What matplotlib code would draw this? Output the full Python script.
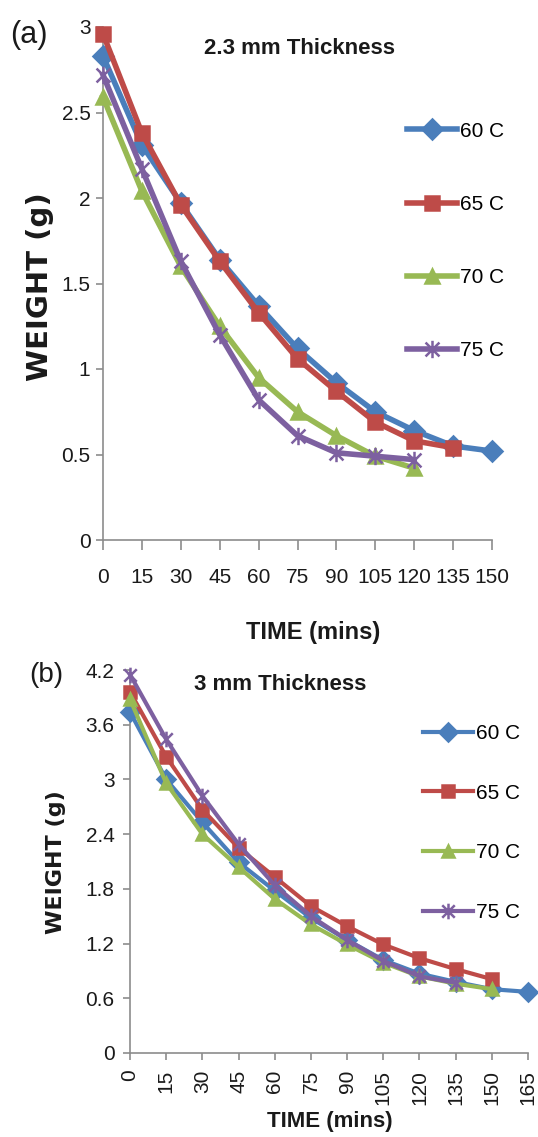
import matplotlib
matplotlib.use("Agg")
import matplotlib.pyplot as plt
from matplotlib.path import Path

W, H = 538, 1137

# ---- data ----
LABELS = ["60 C", "65 C", "70 C", "75 C"]

TIME_A = [0, 15, 30, 45, 60, 75, 90, 105, 120, 135, 150]
WEIGHT_A_60 = [2.83, 2.31, 1.97, 1.64, 1.37, 1.12, 0.92, 0.75, 0.64, 0.55, 0.52]
WEIGHT_A_65 = [2.96, 2.38, 1.96, 1.63, 1.33, 1.06, 0.87, 0.69, 0.58, 0.54]
WEIGHT_A_70 = [2.59, 2.04, 1.60, 1.25, 0.95, 0.75, 0.61, 0.49, 0.42]
WEIGHT_A_75 = [2.72, 2.17, 1.63, 1.20, 0.82, 0.61, 0.51, 0.49, 0.47]
YTICKS_A = [0, 0.5, 1, 1.5, 2, 2.5, 3]
YTICKLABELS_A = ["0", "0.5", "1", "1.5", "2", "2.5", "3"]

TIME_B = [0, 15, 30, 45, 60, 75, 90, 105, 120, 135, 150, 165]
WEIGHT_B_60 = [3.74, 3.00, 2.53, 2.09, 1.78, 1.48, 1.24, 1.02, 0.87, 0.78, 0.70, 0.67]
WEIGHT_B_65 = [3.96, 3.25, 2.67, 2.25, 1.93, 1.61, 1.39, 1.19, 1.04, 0.92, 0.81]
WEIGHT_B_70 = [3.88, 2.96, 2.40, 2.04, 1.69, 1.41, 1.19, 0.99, 0.84, 0.76, 0.70]
WEIGHT_B_75 = [4.15, 3.44, 2.82, 2.29, 1.84, 1.50, 1.24, 1.01, 0.84, 0.77]
YTICKS_B = [0, 0.6, 1.2, 1.8, 2.4, 3, 3.6, 4.2]
YTICKLABELS_B = ["0", "0.6", "1.2", "1.8", "2.4", "3", "3.6", "4.2"]

# Excel 2007 palette
COLORS = ["#4a7ebb", "#be4b48", "#98b954", "#7d60a0"]
SPINE = "#8c8c8c"
TEXT = "#1a1a1a"

# Excel "star" marker: an x with a vertical bar
STAR = Path(
    [(-1, -1), (1, 1), (-1, 1), (1, -1), (0, -1.25), (0, 1.25)],
    [Path.MOVETO, Path.LINETO] * 3,
)
MARKERS = ["D", "s", "^", STAR]

plt.rcParams["font.family"] = ["Liberation Sans", "DejaVu Sans"]


def fx(px):
    return px / W


def fy(py):
    return 1 - py / H


def draw_panel(ax, times, series, lw, ms):
    for i, w in enumerate(series):
        ax.plot(
            times[: len(w)], w,
            color=COLORS[i], lw=lw,
            marker=MARKERS[i], ms=ms if i != 3 else ms * 1.25,
            mfc=COLORS[i], mec=COLORS[i], mew=1.8,
            label=LABELS[i], clip_on=False, zorder=3 + i,
        )
    for s in ["top", "right"]:
        ax.spines[s].set_visible(False)
    for s in ["left", "bottom"]:
        ax.spines[s].set_color(SPINE)
        ax.spines[s].set_linewidth(1.2)
    ax.tick_params(colors=SPINE, labelcolor=TEXT, width=1.2, direction="out")


fig = plt.figure(figsize=(W / 100, H / 100), dpi=100)

# ---- panel (a) ----
ax_a = fig.add_axes([fx(103), fy(540), fx(492) - fx(103), fy(27) - fy(540)])
draw_panel(ax_a, TIME_A, [WEIGHT_A_60, WEIGHT_A_65, WEIGHT_A_70, WEIGHT_A_75], 4, 10)
ax_a.set_xlim(0, 150)
ax_a.set_ylim(0, 3)
ax_a.set_xticks(TIME_A)
ax_a.set_xticklabels([str(t) for t in TIME_A])
ax_a.set_yticks(YTICKS_A)
ax_a.set_yticklabels(YTICKLABELS_A)
ax_a.tick_params(axis="x", length=7, pad=13, labelsize=15)
ax_a.tick_params(axis="y", length=5, pad=4, labelsize=15)
ax_a.legend(
    loc="center left", bbox_to_anchor=(fx(407), fy(241)),
    bbox_transform=fig.transFigure, frameon=False, fontsize=15,
    borderpad=0, borderaxespad=0, handlelength=2.4, handletextpad=0.15,
    labelspacing=2.6,
)

# ---- panel (b) ----
ax_b = fig.add_axes([fx(130), fy(1053), fx(528) - fx(130), fy(670) - fy(1053)])
draw_panel(ax_b, TIME_B, [WEIGHT_B_60, WEIGHT_B_65, WEIGHT_B_70, WEIGHT_B_75], 3, 9)
ax_b.set_xlim(0, 165)
ax_b.set_ylim(0, 4.2)
ax_b.set_xticks(TIME_B)
ax_b.set_xticklabels([str(t) for t in TIME_B])
ax_b.set_yticks(YTICKS_B)
ax_b.set_yticklabels(YTICKLABELS_B)
ax_b.tick_params(axis="x", length=5, pad=7, labelsize=15, labelrotation=90)
ax_b.tick_params(axis="y", length=5, pad=6, labelsize=15)
ax_b.legend(
    loc="center left", bbox_to_anchor=(fx(423), fy(823)),
    bbox_transform=fig.transFigure, frameon=False, fontsize=15,
    borderpad=0, borderaxespad=0, handlelength=2.4, handletextpad=0.15,
    labelspacing=1.95,
)

# ---- text ----
fig.text(fx(29), fy(35), "(a)", fontsize=22, ha="center", va="center", color=TEXT)
fig.text(fx(46), fy(675), "(b)", fontsize=20, ha="center", va="center", color=TEXT)
fig.text(fx(300), fy(48), "2.3 mm Thickness", fontsize=16, fontweight="bold",
         ha="center", va="center", color=TEXT)
fig.text(fx(280), fy(685), "3 mm Thickness", fontsize=16, fontweight="bold",
         ha="center", va="center", color=TEXT)
fig.text(fx(40), fy(287), "WEIGHT (g)", fontsize=21, fontweight="bold",
         rotation=90, ha="center", va="center", color=TEXT, family="DejaVu Sans")
fig.text(fx(56), fy(862), "WEIGHT (g)", fontsize=16, fontweight="bold",
         rotation=90, ha="center", va="center", color=TEXT, family="DejaVu Sans")
fig.text(fx(313), fy(633), "TIME (mins)", fontsize=17, fontweight="bold",
         ha="center", va="center", color=TEXT)
fig.text(fx(330), fy(1121), "TIME (mins)", fontsize=16, fontweight="bold",
         ha="center", va="center", color=TEXT)

fig.savefig("out.png", dpi=100, facecolor="white")
